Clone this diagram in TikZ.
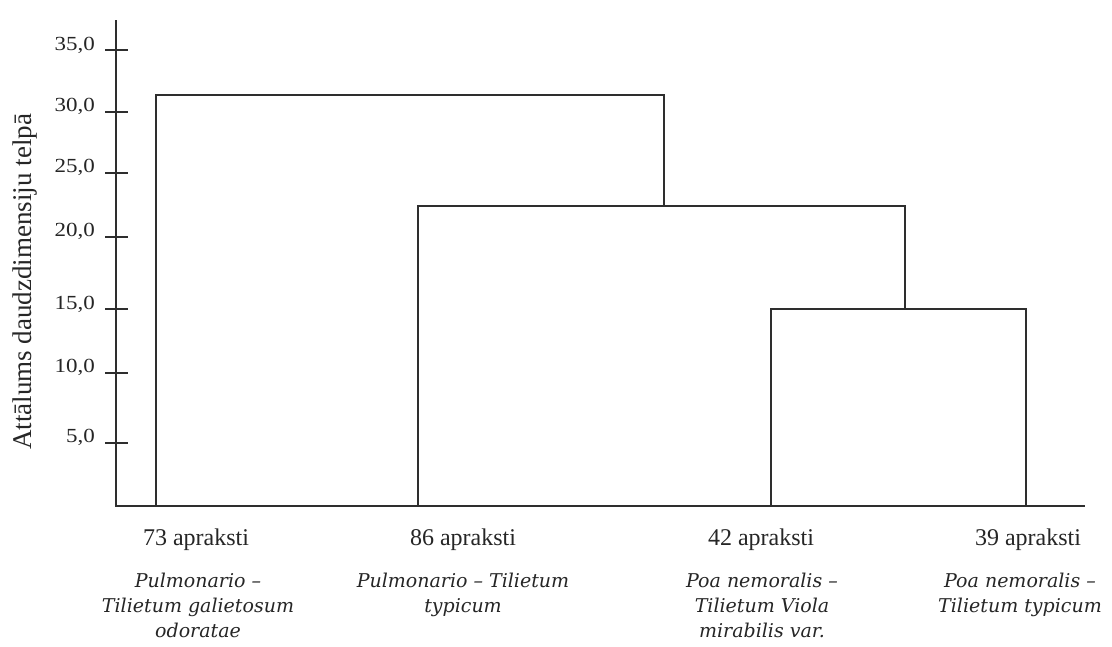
\documentclass[tikz,border=0pt]{standalone}
\usepackage{fontspec}
\usepackage{graphicx}
\setmainfont{Liberation Serif}
\newfontfamily\slabit{DejaVu Serif}[ItalicFont={* Italic}]
\tikzset{
  ln/.style={line width=1.7pt, draw=black!82},
  ticklbl/.style={anchor=east, inner sep=0pt, text=black!85, font=\fontsize{20}{20}\selectfont},
  cnt/.style={inner sep=0pt, anchor=base, text=black!85, font=\fontsize{24}{24}\selectfont},
  spec/.style={inner sep=0pt, anchor=north, align=center, text=black!85, font=\slabit\itshape\fontsize{19}{25}\selectfont},
}
\begin{document}
\begin{tikzpicture}[x=1pt,y=-1pt]
\useasboundingbox[fill=white] (0,0) rectangle (1112,646);
% axes
\coordinate (ytop) at (116,20);
\coordinate (orig) at (116,506);
\coordinate (xend) at (1085,506);
\draw[ln] (ytop) -- (orig) -- (xend);
% ticks
\foreach \v/\yy in {35/50, 30/111.7, 25/172.7, 20/236.7, 15/309, 10/372.7, 5/442.7}{
  \draw[ln] (105,\yy) -- (128,\yy);
  \node[ticklbl] (t\v) at (95,\yy-5) {\scalebox{1.15}[1]{\v,0}};
}
% y label
\node[rotate=90, inner sep=0pt, text=black!85, font=\fontsize{27}{27}\selectfont] (ylab) at (25,282) {Attālums daudzdimensiju telpā};
% dendrogram
\coordinate (a0) at (156,506);
\coordinate (a1) at (156,95);
\coordinate (b1) at (664,95);
\coordinate (b0) at (664,206);
\coordinate (c0) at (418,506);
\coordinate (c1) at (418,206);
\coordinate (d1) at (905,206);
\coordinate (d0) at (905,309);
\coordinate (e0) at (771,506);
\coordinate (e1) at (771,309);
\coordinate (f1) at (1026,309);
\coordinate (f0) at (1026,506);
\draw[ln] (a0) -- (a1) -- (b1) -- (b0);
\draw[ln] (c0) -- (c1) -- (d1) -- (d0);
\draw[ln] (e0) -- (e1) -- (f1) -- (f0);
% labels
\node[cnt] (n1) at (196,545) {73 apraksti};
\node[cnt] (n2) at (463,545) {86 apraksti};
\node[cnt] (n3) at (761,545) {42 apraksti};
\node[cnt] (n4) at (1028,545) {39 apraksti};
\node[spec] (s1) at (198,572.5) {Pulmonario –\\Tilietum galietosum\\odoratae};
\node[spec] (s2) at (463,572.5) {Pulmonario – Tilietum\\typicum};
\node[spec] (s3) at (762,572.5) {Poa nemoralis –\\Tilietum Viola\\mirabilis var.};
\node[spec] (s4) at (1020,572.5) {Poa nemoralis –\\Tilietum typicum};
\end{tikzpicture}
\end{document}
